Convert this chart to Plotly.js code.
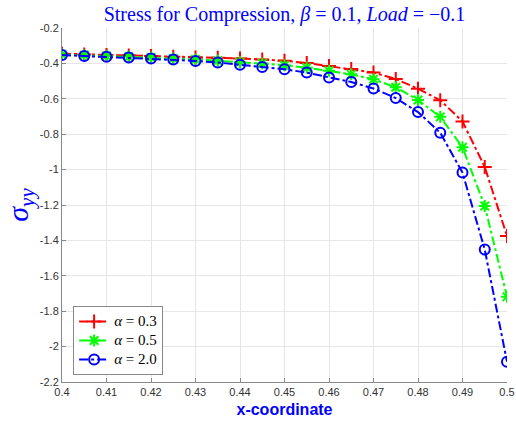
<!DOCTYPE html>
<html>
<head>
<meta charset="utf-8">
<script src="https://cdn.plot.ly/plotly-3.0.1.min.js"></script>
<style>
html,body{margin:0;padding:0;background:#fff;}
#chart{width:516px;height:425px;}
</style>
</head>
<body>
<div id="chart"></div>
<script>
const xCoord = [0.400,0.405,0.410,0.415,0.420,0.425,0.430,0.435,0.440,0.445,0.450,0.455,0.460,0.465,0.470,0.475,0.480,0.485,0.490,0.495,0.500];
const alpha03 = [-0.345,-0.350,-0.352,-0.355,-0.358,-0.362,-0.366,-0.368,-0.372,-0.378,-0.385,-0.398,-0.415,-0.432,-0.452,-0.488,-0.543,-0.608,-0.728,-0.985,-1.375];
const alpha05 = [-0.350,-0.354,-0.358,-0.362,-0.367,-0.373,-0.378,-0.385,-0.393,-0.400,-0.410,-0.424,-0.442,-0.462,-0.490,-0.535,-0.607,-0.702,-0.874,-1.206,-1.718];
const alpha20 = [-0.353,-0.358,-0.362,-0.367,-0.372,-0.378,-0.386,-0.395,-0.408,-0.420,-0.433,-0.452,-0.480,-0.505,-0.542,-0.596,-0.675,-0.792,-1.017,-1.452,-2.085];
const seriesNames = ["<i>α</i> = 0.3","<i>α</i> = 0.5","<i>α</i> = 2.0"];
const xTickVals = [0.40,0.41,0.42,0.43,0.44,0.45,0.46,0.47,0.48,0.49,0.50];
const xTickText = ["0.4","0.41","0.42","0.43","0.44","0.45","0.46","0.47","0.48","0.49","0.5"];
const yTickVals = [-0.2,-0.4,-0.6,-0.8,-1.0,-1.2,-1.4,-1.6,-1.8,-2.0,-2.2];
const yTickText = ["-0.2","-0.4","-0.6","-0.8","-1","-1.2","-1.4","-1.6","-1.8","-2","-2.2"];

function tr(y, name, color, symbol){
  return {
    x: xCoord, y: y, name: '<span style="font-size:15px">' + name + '</span>', type: 'scatter', mode: 'lines+markers',
    line: {color: color, width: 2, dash: 'dashdot'},
    marker: {symbol: symbol, size: 10, color: color, line: {color: color, width: 2}}
  };
}
const data = [
  tr(alpha03, seriesNames[0], '#ff0000', 'cross-thin-open'),
  tr(alpha05, seriesNames[1], '#00ff00', 'asterisk-open'),
  tr(alpha20, seriesNames[2], '#0000ff', 'circle-open')
];
const tickFont = {family: 'Liberation Sans, Arial, sans-serif', size: 11, color: '#333333'};
const layout = {
  width: 516, height: 425,
  margin: {l: 62, r: 9, t: 28, b: 43},
  paper_bgcolor: '#ffffff', plot_bgcolor: '#ffffff',
  showlegend: true,
  title: {
    text: 'Stress for Compression, <i>β</i> = 0.1, <i>Load</i> = −0.1',
    font: {family: 'Liberation Serif, DejaVu Serif, serif', size: 20, color: '#0000ff'},
    x: 0.5, xref: 'paper', xanchor: 'center',
    y: 1 - 14/425, yref: 'container', yanchor: 'middle'
  },
  xaxis: {
    range: [0.4, 0.5],
    tickvals: xTickVals, ticktext: xTickText,
    ticks: 'inside', ticklen: 4, tickcolor: '#888888',
    showline: true, linecolor: '#888888', linewidth: 1,
    showgrid: true, gridcolor: '#e6e6e6', gridwidth: 1,
    zeroline: false, tickfont: tickFont, ticklabeloverflow: 'allow',
    title: {text: '<b>x-coordinate</b>', font: {family: 'Liberation Sans, Arial, sans-serif', size: 16, color: '#0000ff'}, standoff: 6}
  },
  yaxis: {
    range: [-2.2, -0.2],
    tickvals: yTickVals, ticktext: yTickText,
    ticks: 'inside', ticklen: 4, tickcolor: '#888888',
    showline: true, linecolor: '#888888', linewidth: 1,
    showgrid: true, gridcolor: '#e6e6e6', gridwidth: 1,
    zeroline: false, tickfont: tickFont, ticklabeloverflow: 'allow',
    title: {text: '<i>σ</i><sub><i>yy</i></sub>', font: {family: 'Liberation Serif, DejaVu Serif, serif', size: 30, color: '#0000ff'}, standoff: 2}
  },
  legend: {
    x: 0.025, y: 0.02, xanchor: 'left', yanchor: 'bottom',
    bgcolor: '#ffffff', bordercolor: '#888888', borderwidth: 1,
    font: {family: 'Liberation Serif, DejaVu Serif, serif', size: 11, color: '#000000'},
    tracegroupgap: 0, itemwidth: 30
  }
};
Plotly.newPlot('chart', data, layout, {displayModeBar: false, staticPlot: true});
</script>
</body>
</html>
